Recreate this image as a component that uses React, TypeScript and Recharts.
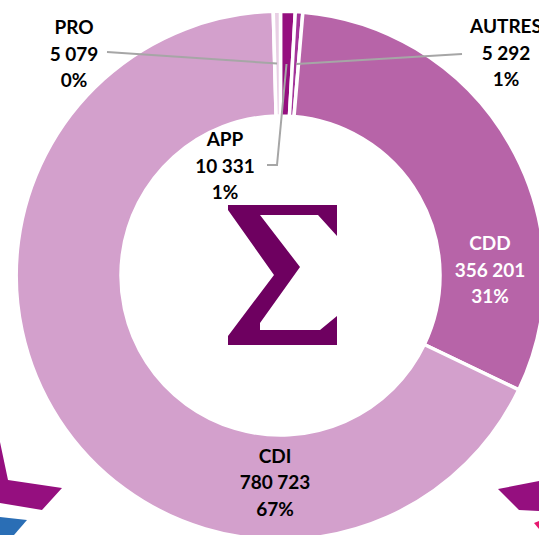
import React from "react";
import { PieChart, Pie, Cell } from "recharts";

const categories = ["APP", "AUTRES", "CDD", "CDI", "PRO"];
const values = [10331, 5292, 356201, 780723, 5079];
const valueLabels = ["10 331", "5 292", "356 201", "780 723", "5 079"];
const percentLabels = ["1%", "1%", "31%", "67%", "0%"];
const COLORS = ["#950F7F", "#A3359A", "#B764A8", "#D3A0CC", "#E8CFE4"];

const data = categories.map((name, i) => ({ name, value: values[i] }));

const CX = 280.5;
const CY = 275.5;

// label anchor (center x, first baseline y) by slice
const labelPos = [
  { x: 225, y: 146, fill: "#000" },
  { x: 506, y: 33, fill: "#000" },
  { x: 490, y: 250, fill: "#fff" },
  { x: 275, y: 462.5, fill: "#000" },
  { x: 74, y: 34, fill: "#000" },
];

const leaderLines = [
  "267,165 277,165 286.5,64",
  "462,54 296,64",
  "107,52 277,63.5",
];

function renderLabel(props: any) {
  const i = props.index;
  const p = labelPos[i];
  return (
    <text
      key={i}
      x={p.x}
      textAnchor="middle"
      fontFamily="Lato"
      fontWeight={700}
      fontSize={19}
      fill={p.fill}
    >
      <tspan x={p.x} y={p.y}>{categories[i]}</tspan>
      <tspan x={p.x} y={p.y + 26.5}>{valueLabels[i]}</tspan>
      <tspan x={p.x} y={p.y + 53}>{percentLabels[i]}</tspan>
    </text>
  );
}

export default function App() {
  return (
    <div style={{ position: "absolute", left: 0, top: 0, width: 539, height: 535, overflow: "hidden", background: "#fff" }}>
      {/* bits of the neighbouring shapes, cut by the picture's edge */}
      <svg width={539} height={535} style={{ position: "absolute", left: 0, top: 0 }}>
        <polygon points="0,442 8,480 62,488 42,510 0,503" fill="#950F7F" />
        <polygon points="0,517 27,520 14,535 0,535" fill="#2A6EB5" />
        <polygon points="498,489 539,481 539,511 519,510" fill="#950F7F" />
        <polygon points="534,523 539,521 539,529" fill="#E6186F" />
      </svg>
      <div style={{ position: "absolute", left: 0, top: 0 }}>
        <PieChart width={539} height={535} margin={{ top: 0, right: 0, bottom: 0, left: 0 }}>
          <Pie
            data={data}
            dataKey="value"
            nameKey="name"
            cx={CX}
            cy={CY}
            innerRadius={159.5}
            outerRadius={264.3}
            startAngle={90}
            endAngle={-270}
            stroke="#fff"
            strokeWidth={3.5}
            label={renderLabel}
            labelLine={false}
            isAnimationActive={false}
          >
            {data.map((_, index) => (
              <Cell key={`cell-${index}`} fill={COLORS[index]} />
            ))}
          </Pie>
        </PieChart>
      </div>
      <svg width={539} height={535} style={{ position: "absolute", left: 0, top: 0, pointerEvents: "none" }}>
        {leaderLines.map((pts) => (
          <polyline key={pts} points={pts} fill="none" stroke="#A6A6A6" strokeWidth={2} />
        ))}
        {/* sigma icon */}
        <polygon
          points="228,205 337,205 337,236 318,215 260,215 300,267 260,323 260,330 320,330 337,316 337,345 228,345 228,336 274,275 228,210"
          fill="#6E0060"
        />
      </svg>
    </div>
  );
}
